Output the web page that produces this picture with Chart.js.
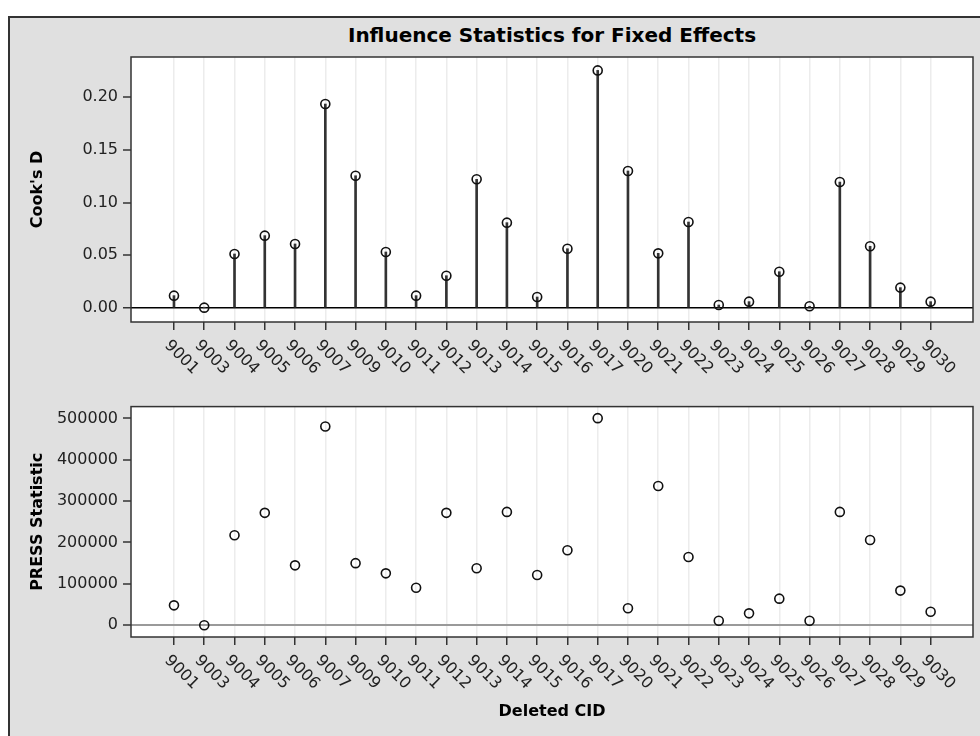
<!DOCTYPE html>
<html>
<head>
<meta charset="utf-8">
<script src="https://cdn.jsdelivr.net/npm/chart.js@4"></script>
<style>
  body{margin:0;background:#fff;font-family:"DejaVu Sans",sans-serif;overflow:hidden}
  #frame{position:absolute;left:8px;top:16px;width:1000px;height:800px;background:#e0e0e0;border:2px solid #333}
  #title{position:absolute;left:131px;width:842px;top:23px;text-align:center;font:bold 20px "DejaVu Sans";line-height:24px;color:#000}
  canvas{position:absolute;left:0}
  #cook{top:0}
  #press{top:392px}
</style>
</head>
<body>
<div id="frame"></div>
<div id="title">Influence Statistics for Fixed Effects</div>
<canvas id="cook" width="980" height="392"></canvas>
<canvas id="press" width="980" height="344"></canvas>
<script>
// deleted subjects, in plot order
const cids = ['9001','9003','9004','9005','9006','9007','9009','9010','9011','9012','9013','9014','9015','9016','9017','9020','9021','9022','9023','9024','9025','9026','9027','9028','9029','9030'];
// Cook's D per deleted CID
const cooksD = [0.0117,0.0003,0.0512,0.0686,0.0607,0.1934,0.1254,0.0531,0.0117,0.0306,0.1220,0.0809,0.0104,0.0562,0.2253,0.1299,0.0518,0.0815,0.0028,0.0060,0.0344,0.0016,0.1194,0.0585,0.0193,0.0060];
// PRESS statistic per deleted CID
const press = [48000,0,217500,271700,144700,480600,150000,125400,90600,271700,137800,274000,121500,181100,500800,41000,336700,164900,10800,28600,64200,10800,274000,205900,83600,32500];
// tick values
const cookTicks = [0,0.05,0.10,0.15,0.20];
const pressTicks = [0,100000,200000,300000,400000,500000];

const FONT = '"DejaVu Sans"';

// white plot area, frame round it, rotated category labels under the ticks
const frameLabels = {
  id:'frameLabels',
  beforeDraw(chart){
    const {ctx, chartArea:a} = chart;
    ctx.save(); ctx.fillStyle='#fff';
    ctx.fillRect(a.left, a.top, a.right-a.left, a.bottom-a.top);
    ctx.restore();
  },
  afterDraw(chart){
    const {ctx, chartArea:a, scales:{x}} = chart;
    ctx.save();
    ctx.strokeStyle='#333'; ctx.lineWidth=1.5;
    ctx.strokeRect(a.left, a.top, a.right-a.left, a.bottom-a.top);
    ctx.font='16px '+FONT; ctx.fillStyle='#222'; ctx.textAlign='left'; ctx.textBaseline='middle';
    cids.forEach((c,i)=>{
      ctx.save();
      ctx.translate(x.getPixelForValue(i)-7, a.bottom+21);
      ctx.rotate(Math.PI/4);
      ctx.fillText(c,0,0);
      ctx.restore();
    });
    ctx.restore();
  }
};

function xScale(height, title){
  return {
    type:'linear', min:-1.42, max:26.40, offset:false,
    afterBuildTicks: s => { s.ticks = cids.map((c,i)=>({value:i})); },
    afterFit: s => { s.height = height; },
    ticks:{display:false},
    grid:{color:'#ececec', lineWidth:1.5, tickColor:'#333', tickWidth:1.5, tickLength:8, offset:false},
    border:{display:false},
    title: title ? {display:true, text:title, color:'#000', font:{family:FONT, size:16, weight:'bold'}, padding:{top:0,bottom:15}} : {display:false}
  };
}

function yScale(min, max, tickVals, fmt, title, zeroColor, zeroWidth){
  return {
    min, max,
    afterBuildTicks: s => { s.ticks = tickVals.map(v=>({value:v})); },
    afterFit: s => { s.width = 103; },
    ticks:{color:'#222', font:{family:FONT, size:16}, padding:5, callback:fmt},
    grid:{
      color: c => c.tick && c.tick.value===0 ? zeroColor : 'rgba(0,0,0,0)',
      lineWidth: c => c.tick && c.tick.value===0 ? zeroWidth : 0,
      tickColor:'#333', tickWidth:1.5, tickLength:8
    },
    border:{display:false},
    title:{display:true, text:title, color:'#000', font:{family:FONT, size:16, weight:'bold'}, padding:0}
  };
}

const common = {
  responsive:false, animation:false, devicePixelRatio:1,
  plugins:{legend:{display:false}, tooltip:{enabled:false}}
};

new Chart(document.getElementById('cook'), {
  type:'bar',
  data:{datasets:[
    {type:'bar', data:cids.map((c,i)=>({x:i, y:cooksD[i]})), backgroundColor:'#333', barThickness:2, order:2},
    {type:'scatter', data:cids.map((c,i)=>({x:i, y:cooksD[i]})), pointStyle:'circle', pointRadius:4.5,
     borderColor:'#111', borderWidth:1.6, backgroundColor:'rgba(0,0,0,0)', order:1}
  ]},
  options:{...common,
    layout:{padding:{top:57, right:7, left:28, bottom:0}},
    scales:{
      x: xScale(70, null),
      y: yScale(-0.0133, 0.238, cookTicks, v=>v.toFixed(2), "Cook's D", '#000', 1.5)
    }
  },
  plugins:[frameLabels]
});

new Chart(document.getElementById('press'), {
  type:'scatter',
  data:{datasets:[
    {data:cids.map((c,i)=>({x:i, y:press[i]})), pointStyle:'circle', pointRadius:4.5,
     borderColor:'#111', borderWidth:1.6, backgroundColor:'rgba(0,0,0,0)'}
  ]},
  options:{...common,
    layout:{padding:{top:5, right:7, left:28, bottom:0}},
    scales:{
      x: xScale(99, 'Deleted CID'),
      y: yScale(-28600, 528700, pressTicks, v=>String(v), 'PRESS Statistic', '#9a9a9a', 2)
    }
  },
  plugins:[frameLabels]
});
</script>
</body>
</html>
